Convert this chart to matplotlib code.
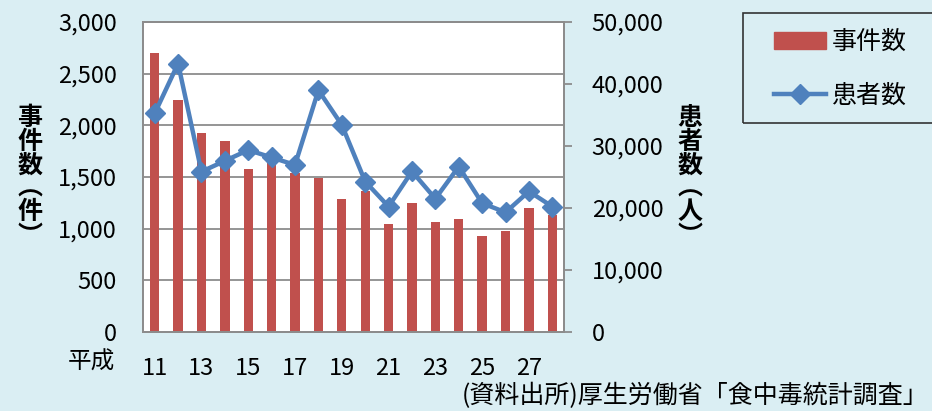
#!/usr/bin/env python3
import matplotlib
matplotlib.use('Agg')
import matplotlib.pyplot as plt
from matplotlib.patches import Rectangle
from matplotlib.lines import Line2D
from matplotlib.patches import Patch

plt.rcParams['font.family'] = ['Noto Sans CJK JP', 'DejaVu Sans']

# 平成11年〜28年
years = list(range(11, 29))
# 事件数（件）
incidents = [2700, 2247, 1925, 1848, 1580, 1660, 1540, 1488, 1285, 1366,
             1045, 1252, 1060, 1096, 928, 974, 1198, 1135]
# 患者数（人）
patients = [35250, 43300, 25860, 27600, 29350, 28150, 26950, 39000, 33400, 24270,
            20230, 25900, 21500, 26680, 20780, 19300, 22680, 20230]
tick_years = [y for y in years if y % 2 == 1]

BG = '#DAEEF3'
RED = '#C0504D'
BLUE = '#4F81BD'
GRID = '#8C8C8C'
W, H = 932, 411

fig = plt.figure(figsize=(W / 100, H / 100), dpi=100, facecolor=BG)
ax = fig.add_axes([143 / W, 1 - 332 / H, 421 / W, 310 / H])
ax.set_facecolor('white')

x = list(range(len(years)))
ax.bar(x, incidents, width=0.4, color=RED, zorder=2)
ax.set_xlim(-0.5, len(years) - 0.5)
ax.set_ylim(0, 3000)
ax.set_yticks(range(0, 3001, 500))
ax.set_yticklabels([f'{v:,}' for v in range(0, 3001, 500)])
ax.set_xticks([years.index(y) for y in tick_years])
ax.set_xticklabels([str(y) for y in tick_years])
ax.grid(axis='y', color=GRID, linewidth=1.3, zorder=1)
ax.set_axisbelow(True)
ax.tick_params(axis='y', length=0, pad=19, labelsize=17)
ax.tick_params(axis='x', length=0, pad=18, labelsize=17)
for s in ax.spines.values():
    s.set_color(GRID)
    s.set_linewidth(1.3)

ax2 = ax.twinx()
ax2.plot(x, patients, color=BLUE, linewidth=3.2, marker='D', markersize=10,
         markeredgecolor=BLUE, markerfacecolor=BLUE, zorder=3)
ax2.set_ylim(0, 50000)
ax2.set_yticks(range(0, 50001, 10000))
ax2.set_yticklabels([f'{v:,}' for v in range(0, 50001, 10000)])
ax2.tick_params(axis='y', length=6, width=1.3, color=GRID, pad=14, labelsize=17)
for s in ax2.spines.values():
    s.set_color(GRID)
    s.set_linewidth(1.3)

# axis titles (vertical stacked)
fig.text(30 / W, 1 - 177 / H, '事\n件\n数\n︵\n件\n︶', ha='center', va='center',
         fontsize=18, fontweight='bold', linespacing=0.98)
fig.text(690 / W, 1 - 177 / H, '患\n者\n数\n︵\n人\n︶', ha='center', va='center',
         fontsize=18, fontweight='bold', linespacing=0.98)
fig.text(91 / W, 1 - 362 / H, '平成', ha='center', va='center', fontsize=17)
fig.text(928 / W, 1 - 396 / H, '(資料出所)厚生労働省「食中毒統計調査」',
         ha='right', va='center', fontsize=18)

# legend
fig.patches.append(Rectangle((743 / W, 1 - 123 / H), 220 / W, 110 / H,
                             transform=fig.transFigure, facecolor='none',
                             edgecolor='#333333', linewidth=1.2))
handles = [Patch(facecolor=RED, edgecolor=RED),
           Line2D([], [], color=BLUE, linewidth=3.2, marker='D', markersize=10)]
fig.legend(handles, ['事件数', '患者数'], loc='center left',
           bbox_to_anchor=(751 / W, 1 - 69 / H), frameon=False, fontsize=18,
           handlelength=2.1, handletextpad=0.25, labelspacing=1.1)

fig.savefig('out.png', dpi=100, facecolor=BG)
